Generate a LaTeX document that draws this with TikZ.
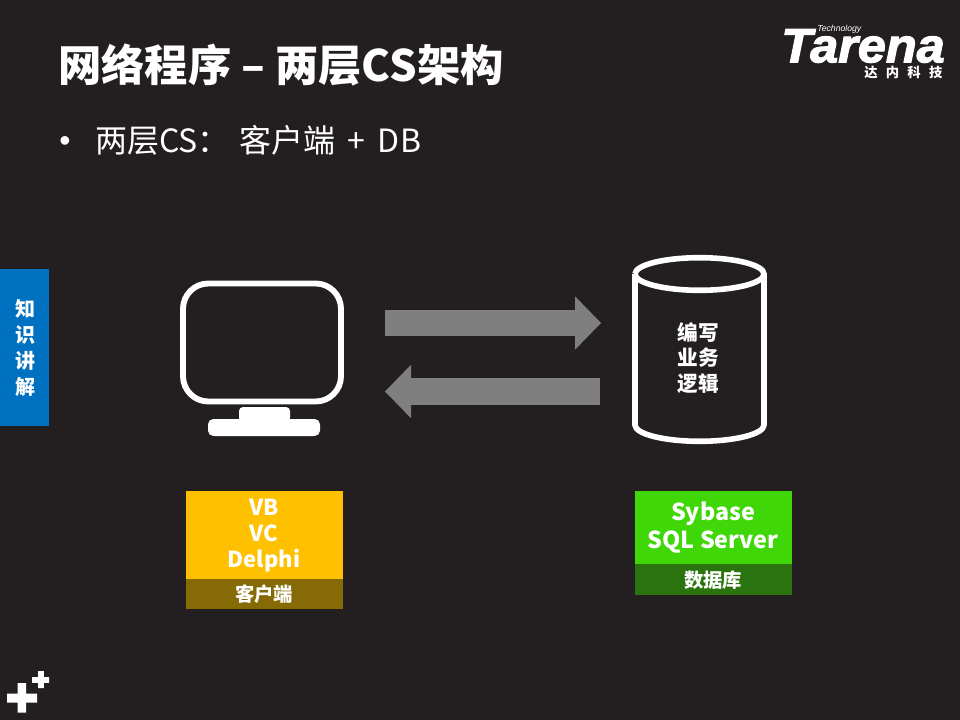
\documentclass[tikz,border=0pt]{standalone}
\usepackage{fontspec}
\setmainfont{Noto Sans CJK SC}
\newfontfamily\logofont[BoldItalicFeatures={FakeBold=2.5,FakeStretch=1.05}]{Liberation Sans}
\newfontfamily\bulletfont{Liberation Sans}
\usetikzlibrary{arrows.meta}
\definecolor{bgc}{HTML}{231F20}
\definecolor{yel}{HTML}{FFC000}
\definecolor{yeld}{HTML}{866A05}
\definecolor{grn}{HTML}{3FD708}
\definecolor{grnd}{HTML}{2A730E}
\definecolor{blu}{HTML}{0070C0}
\definecolor{arr}{HTML}{7F7F7F}
\newcommand{\fs}[1]{\fontsize{#1pt}{#1pt}\selectfont}
\tikzset{
  x=0.75pt,y=-0.75pt,
  txt/.style={text=white,inner sep=0pt,align=center},
  flow/.style={draw=arr,line width=19.9pt,-{Triangle[length=19.5pt,width=40pt,line width=0pt]}},
  outline/.style={draw=white,line width=4.2pt},
}
\begin{document}
\begin{tikzpicture}
\useasboundingbox (0,0) rectangle (960,720);
\fill[bgc] (0,0) rectangle (960,720);
% title
\node[txt,anchor=west,font=\fs{32.5}\bfseries] (title) at (58,65) {网络程序 – 两层CS架构};
\node[txt,font=\bulletfont\fs{24}] (bullet) at (65,144) {•};
\node[txt,anchor=west,font=\fs{24}] (body) at (95,140) {两层CS：\hspace{7pt}客户端\hspace{3.5pt} + \hspace{4.5pt}DB};
% logo
\node[txt,anchor=west,font=\logofont\fs{36}\bfseries\itshape] (logo) at (781,46) {Tarena};
\node[txt,anchor=west,font=\bulletfont\fs{6.5}\itshape,text=white] (tech) at (817,29.5) {Technology};
\node[txt,anchor=west,font=\fs{10}\bfseries] (cn) at (864,72) {达\hspace{6.2pt}内\hspace{6.2pt}科\hspace{6.2pt}技};
% side tab
\fill[blu] (0,269) rectangle (49,426);
\node[txt,font=\fs{15}\bfseries] (tab) at (25,348) {知\\[4.3pt]识\\[4.3pt]讲\\[4.3pt]解};
% plus marks
\fill[white] (7,693.5) rectangle (37,702.5) (17.5,683) rectangle (26,712.5);
\fill[white] (32,677.2) rectangle (49,682.8) (38.2,671) rectangle (43.8,688);
% monitor
\node[draw=white,line width=4.4pt,rounded corners=19pt,minimum width=118.5pt,minimum height=88.5pt,inner sep=0pt] (monitor) at (262,342.5) {};
\fill[white,rounded corners=3pt] (239,422) -- (239,407) -- (290,407) -- (290,422) -- cycle;
\fill[white,rounded corners=4pt] (208,436) -- (208,419) -- (320,419) -- (320,436) -- cycle;
% database
\draw[outline] (635,274) arc[start angle=180,end angle=540,x radius=64.5,y radius=16.3];
\draw[outline] (635,274) -- (635,425) arc[start angle=180,end angle=0,x radius=64.5,y radius=16.3] -- (764,274);
\node[txt,font=\fs{15.5}\bfseries] (logic) at (698,358) {编写\\[3.5pt]业务\\[3.5pt]逻辑};
% arrows
\coordinate (a1) at (385,323);
\coordinate (a2) at (601,323);
\coordinate (b1) at (600,391.5);
\coordinate (b2) at (385,391.5);
\draw[flow] (a1) -- (a2);
\draw[flow] (b1) -- (b2);
% client box
\fill[yel] (186,491) rectangle (343,579);
\fill[yeld] (186,579) rectangle (343,609);
\node[txt,font=\fs{16.5}\bfseries] (clienttech) at (264,536) {VB\\[3pt]VC\\[3pt]Delphi};
\node[txt,font=\fs{14.5}\bfseries] (clientlab) at (264,594) {客户端};
% db box
\fill[grn] (635,491) rectangle (792,564);
\fill[grnd] (635,564) rectangle (792,595);
\node[txt,font=\fs{17.5}\bfseries] (dbtech) at (713,528) {Sybase\\[3.5pt]SQL Server};
\node[txt,font=\fs{14.5}\bfseries] (dblab) at (713,580) {数据库};
\end{tikzpicture}
\end{document}
